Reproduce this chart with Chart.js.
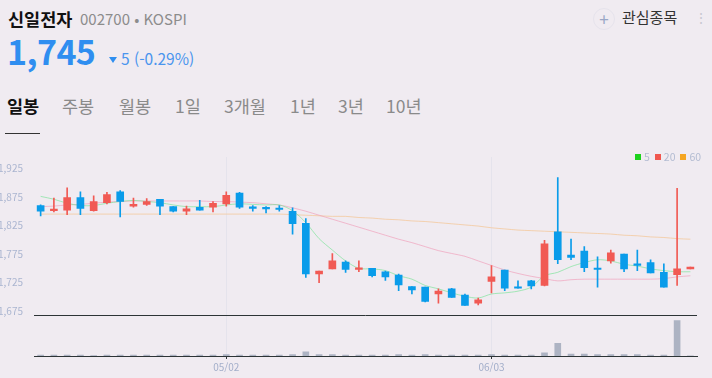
<!DOCTYPE html>
<html lang="ko">
<head>
<meta charset="UTF-8">
<title>신일전자 일봉</title>
<script src="https://cdn.jsdelivr.net/npm/chart.js"></script>
<style>
  body { margin: 0; width: 712px; height: 378px; background: #f0ebf1; position: relative; overflow: hidden;
         font-family: "Noto Sans CJK KR", "Noto Sans", sans-serif; }
  .t { position: absolute; white-space: nowrap; line-height: 1; }
  .name { left: 8px; top: 10px; font-size: 17.5px; font-weight: bold; color: #111; }
  .code { left: 80px; top: 11px; font-size: 15px; color: #8c8c8c; }
  .price { left: 7px; top: 34px; font-size: 34px; font-weight: bold; color: #2f8ef0; letter-spacing: -0.6px; }
  .tri { position: absolute; left: 109px; top: 57px; width: 0; height: 0;
         border-left: 4px solid transparent; border-right: 4px solid transparent; border-top: 6px solid #2f8ef0; }
  .chg { left: 121px; top: 51px; font-size: 15.5px; color: #4a95ee; }
  .plus { position: absolute; left: 593px; top: 8px; width: 20px; height: 20px; border-radius: 50%;
          border: 1px solid #e6e3ec; color: #9aa7c6; font-size: 17px; line-height: 19px; text-align: center; }
  .fav { left: 622px; top: 9px; font-size: 15px; color: #333; }
  .dots { left: 694px; top: 10px; font-size: 14px; color: #c8c8d0; }
  .tab { top: 97px; font-size: 17.5px; color: #8a8a8a; }
  .tab.on { color: #111; font-weight: bold; }
  .uline { position: absolute; left: 5px; top: 133px; width: 35px; height: 1px; background: #333; }
  .legend { position: absolute; top: 152px; left: 635px; font-size: 10.5px; color: #b3bcd2; line-height: 10px; white-space: nowrap; }
  .legend span.b { display: inline-block; width: 6px; height: 6px; margin-right: 3px; vertical-align: 1px; }
  .legend span.l { margin-right: 5px; }
  #wrap { position: absolute; left: 0; top: 148px; width: 712px; height: 230px; }
</style>
</head>
<body>
  <div class="t name">신일전자</div>
  <div class="t code">002700 • KOSPI</div>
  <div class="t price">1,745</div>
  <div class="tri"></div>
  <div class="t chg">5 (-0.29%)</div>
  <div class="plus">+</div>
  <div class="t fav">관심종목</div>
  <div class="t dots">⋮</div>

  <div class="t tab on" style="left:7px">일봉</div>
  <div class="t tab" style="left:62px">주봉</div>
  <div class="t tab" style="left:119px">월봉</div>
  <div class="t tab" style="left:175px">1일</div>
  <div class="t tab" style="left:224px">3개월</div>
  <div class="t tab" style="left:290px">1년</div>
  <div class="t tab" style="left:338px">3년</div>
  <div class="t tab" style="left:386px">10년</div>
  <div class="uline"></div>

  <div id="wrap"><canvas id="chart" width="712" height="230"></canvas></div>
  <div class="legend" id="legend"></div>

<script>
const labels = ['04/11','04/12','04/15','04/16','04/17','04/18','04/19','04/22','04/23','04/24',
  '04/25','04/26','04/29','04/30','05/02','05/03','05/07','05/08','05/09','05/10',
  '05/13','05/14','05/16','05/17','05/20','05/21','05/22','05/23','05/24','05/27',
  '05/28','05/29','05/30','05/31','06/03','06/04','06/05','06/07','06/10','06/11',
  '06/12','06/13','06/14','06/17','06/18','06/19','06/20','06/21','06/24','06/25'];

const openP  = [1860,1851,1852,1874,1851,1865,1884,1859,1862,1871,1858,1850,1857,1857,1863,1882,1857,1856,1855,1850,
                1829,1740,1749,1761,1748,1750,1744,1738,1718,1717,1705,1714,1703,1689,1727,1747,1717,1728,1720,1814,
                1773,1780,1749,1763,1775,1758,1760,1743,1739,1749];
const highP  = [1861,1873,1891,1884,1877,1883,1886,1873,1872,1871,1858,1859,1869,1867,1884,1883,1860,1858,1860,1856,
                1837,1745,1776,1763,1763,1750,1745,1740,1718,1717,1714,1715,1705,1698,1755,1747,1728,1729,1799,1909,
                1801,1788,1770,1782,1775,1782,1765,1758,1890,1752];
const lowP   = [1842,1849,1844,1844,1850,1863,1840,1857,1860,1844,1849,1844,1852,1849,1859,1855,1850,1847,1850,1810,
                1734,1725,1749,1743,1744,1735,1729,1711,1705,1691,1689,1699,1685,1686,1707,1711,1715,1714,1719,1758,
                1765,1744,1717,1759,1744,1746,1742,1717,1720,1749];
const closeP = [1850,1853,1874,1855,1867,1879,1867,1862,1867,1859,1850,1854,1852,1864,1878,1857,1855,1854,1853,1828,
                1740,1745,1763,1748,1751,1737,1735,1721,1712,1692,1710,1699,1685,1695,1735,1715,1715,1719,1793,1765,
                1769,1751,1748,1777,1749,1755,1742,1717,1749,1752];

const ma5  = [1876,1871,1864,1860,1860,1864,1867,1869,1867,1865,1861,1858,1858,1858,1861,1863,1862,1861,1861,1851,
              1830,1802,1782,1763,1750,1749,1746,1737,1731,1720,1714,1707,1701,1698,1705,1707,1710,1717,1737,1743,
              1753,1760,1765,1763,1757,1754,1749,1746,1744,1744];
const ma20 = [1858,1859,1861,1862,1864,1866,1867,1868,1868,1868,1868,1868,1868,1867,1867,1866,1865,1863,1861,1856,
              1850,1843,1836,1829,1822,1815,1808,1801,1795,1788,1781,1776,1771,1763,1755,1747,1741,1736,1732,1728,
              1730,1731,1731,1731,1731,1731,1731,1732,1735,1737];
const ma60 = [1845,1845,1845,1845,1845,1845,1845,1845,1845,1845,1845,1845,1845,1845,1845,1845,1845,1845,1845,1844,
              1843,1842,1841,1841,1839,1838,1836,1835,1833,1832,1830,1828,1826,1824,1821,1819,1817,1816,1815,1814,
              1813,1812,1811,1810,1808,1807,1805,1804,1802,1801];

// 거래량 (천 주, 그림에서 어림)
const volume = [8,8,8,8,3,8,8,8,8,8,8,8,8,8,15,8,8,8,8,15,
                40,15,15,8,8,8,8,15,8,15,8,8,8,8,15,8,8,8,32,124,
                20,20,15,15,15,15,8,8,350,2];

const shownDates = ['05/02', '06/03'];
const priceTicks = [1675, 1725, 1775, 1825, 1875, 1925];
const maNames = ['5', '20', '60'];
const maLegendColors = ['#1ed21e', '#f0574f', '#f5a623'];

const UP = '#f15a54', DOWN = '#0a9cea';
const candleColors = closeP.map((c, i) => c >= openP[i] ? UP : DOWN);

document.getElementById('legend').innerHTML = maNames.map((n, i) =>
  `<span class="b" style="background:${maLegendColors[i]}"></span><span class="l">${n}</span>`).join('');

Chart.defaults.font.family = '"Noto Sans CJK KR", "Noto Sans", sans-serif';

const lineDs = (label, data, color) => ({
  type: 'line', label, data, yAxisID: 'y', borderColor: color, borderWidth: 1,
  pointRadius: 0, tension: 0.3, order: 5
});

new Chart(document.getElementById('chart'), {
  data: {
    labels: labels,
    datasets: [
      lineDs('5', ma5, 'rgba(120,228,150,0.65)'),
      lineDs('20', ma20, 'rgba(240,150,180,0.6)'),
      lineDs('60', ma60, 'rgba(245,190,130,0.6)'),
      { type: 'bar', label: 'wick', data: lowP.map((l, i) => [l, highP[i]]), yAxisID: 'y',
        backgroundColor: candleColors, barThickness: 1, grouped: false, order: 2 },
      { type: 'bar', label: 'body', data: openP.map((o, i) => [o, closeP[i]]), yAxisID: 'y',
        backgroundColor: candleColors, barThickness: 7, grouped: false, minBarLength: 1.5, order: 1 },
      { type: 'bar', label: 'vol', data: volume, yAxisID: 'y2',
        backgroundColor: '#adb3c3', barThickness: 6, grouped: false, order: 1 }
    ]
  },
  options: {
    responsive: false,
    animation: false,
    layout: { padding: { top: 7, right: 15, left: 0, bottom: 0 } },
    plugins: { legend: { display: false }, tooltip: { enabled: false } },
    scales: {
      x: {
        type: 'category', offset: true,
        grid: {
          offset: false,
          color: ctx => shownDates.includes(labels[ctx.index]) ? 'rgba(222,222,234,0.6)' : 'transparent',
          tickColor: ctx => shownDates.includes(labels[ctx.index]) ? '#2d3436' : 'transparent',
          tickLength: 3
        },
        border: { color: '#2d3436' },
        ticks: {
          autoSkip: false, maxRotation: 0, color: '#a3aeca', font: { size: 10 }, padding: 2,
          callback: (v, i) => shownDates.includes(labels[i]) ? labels[i] : ''
        },
        afterFit: s => { s.height = 22; }
      },
      y: {
        stack: 'main', stackWeight: 160, weight: 2, position: 'left',
        min: 1667.5, max: 1945,
        afterBuildTicks: s => { s.ticks = priceTicks.map(v => ({ value: v })); },
        grid: { display: false },
        border: { display: false },
        ticks: { color: '#aab5d0', font: { size: 10 }, padding: 3, callback: v => v.toLocaleString('en-US') },
        afterFit: s => { s.width = 34; }
      },
      y2: {
        stack: 'main', stackWeight: 41, weight: 1, position: 'left',
        min: 0, max: 400,
        afterBuildTicks: s => { s.ticks = [{ value: 400 }]; },
        grid: { color: '#2d3436', drawTicks: false },
        border: { display: false },
        ticks: { display: false },
        afterFit: s => { s.width = 34; }
      }
    }
  }
});
</script>
</body>
</html>
